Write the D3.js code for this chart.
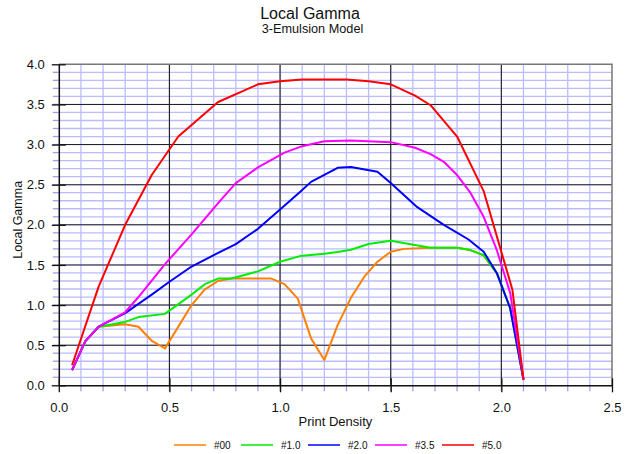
<!DOCTYPE html>
<html><head><meta charset="utf-8">
<script src="https://cdn.jsdelivr.net/npm/d3@7/dist/d3.min.js"></script>
<style>body{margin:0;background:#fff}svg{display:block;font-family:"Liberation Sans",Arial,sans-serif}</style>
</head><body><svg id="c" width="627" height="454"></svg>
<script>
// ---- data ----
const seriesNames = ["#00", "#1.0", "#2.0", "#3.5", "#5.0"];

const density00 = [0.06,0.12,0.18,0.30,0.36,0.42,0.48,0.60,0.66,0.72,0.78,0.91,0.96,1.02,1.08,1.14,1.20,1.26,1.32,1.38,1.44,1.50,1.56,1.68,1.80,1.86,1.92,1.98,2.04,2.10];
const gamma00   = [0.19,0.55,0.73,0.76,0.73,0.555,0.46,1.00,1.195,1.30,1.33,1.33,1.33,1.26,1.08,0.585,0.315,0.75,1.09,1.35,1.54,1.664,1.70,1.714,1.714,1.685,1.62,1.395,0.96,0.07];

const density10 = [0.06,0.12,0.18,0.30,0.36,0.48,0.60,0.66,0.72,0.78,0.90,1.00,1.09,1.20,1.26,1.32,1.40,1.50,1.68,1.80,1.86,1.92,1.98,2.04,2.10];
const gamma10   = [0.19,0.55,0.73,0.79,0.85,0.89,1.13,1.26,1.33,1.33,1.42,1.54,1.61,1.64,1.66,1.69,1.76,1.80,1.714,1.714,1.685,1.62,1.395,0.96,0.07];

const density20 = [0.06,0.12,0.18,0.30,0.42,0.50,0.60,0.72,0.80,0.90,1.00,1.09,1.14,1.26,1.32,1.44,1.50,1.62,1.74,1.85,1.92,1.98,2.04,2.10];
const gamma20   = [0.19,0.55,0.73,0.90,1.13,1.29,1.48,1.65,1.76,1.95,2.19,2.41,2.535,2.71,2.72,2.66,2.52,2.22,2.00,1.82,1.665,1.395,0.96,0.07];

const density35 = [0.06,0.12,0.18,0.30,0.36,0.48,0.60,0.72,0.80,0.90,1.02,1.10,1.20,1.32,1.50,1.61,1.68,1.74,1.80,1.86,1.92,1.98,2.04,2.10];
const gamma35   = [0.19,0.55,0.73,0.91,1.10,1.51,1.88,2.27,2.52,2.715,2.90,2.98,3.04,3.05,3.03,2.96,2.88,2.785,2.62,2.40,2.10,1.68,1.15,0.07];

const density50 = [0.06,0.18,0.30,0.42,0.54,0.72,0.90,1.00,1.10,1.20,1.30,1.40,1.50,1.61,1.68,1.80,1.92,2.05,2.10];
const gamma50   = [0.25,1.23,2.00,2.62,3.10,3.53,3.75,3.79,3.81,3.81,3.81,3.79,3.75,3.61,3.49,3.10,2.42,1.19,0.07];

const xTickValues = [0, 0.5, 1.0, 1.5, 2.0, 2.5];
const xTickLabels = ["0.0","0.5","1.0","1.5","2.0","2.5"];
const yTickValues = [0, 0.5, 1.0, 1.5, 2.0, 2.5, 3.0, 3.5, 4.0];
const yTickLabels = ["0.0","0.5","1.0","1.5","2.0","2.5","3.0","3.5","4.0"];

const titleText = "Local Gamma";
const subtitleText = "3-Emulsion Model";
const xTitle = "Print Density";
const yTitle = "Local Gamma";

// ---- drawing ----
const svg = d3.select("#c");
const L = 58.8, R = 612, T = 64.3, B = 385.3;
const x = d3.scaleLinear().domain([0, 2.5]).range([L, R]);
const y = d3.scaleLinear().domain([0, 4]).range([B, T]);

const gridColor = "#bbbbff";
const minorX = d3.range(1, 25).map(i => i / 10);
const minorY = d3.range(1, 40).map(i => i / 10);

const g = svg.append("g");
// minor grid
g.selectAll(".mx").data(minorX).join("line")
  .attr("x1", d => x(d)).attr("x2", d => x(d)).attr("y1", T).attr("y2", B)
  .attr("stroke", gridColor).attr("stroke-width", 1.3);
g.selectAll(".my").data(minorY).join("line")
  .attr("x1", L).attr("x2", R).attr("y1", d => y(d)).attr("y2", d => y(d))
  .attr("stroke", gridColor).attr("stroke-width", 1.3);
// minor ticks outside
g.selectAll(".mtx").data(minorX).join("line")
  .attr("x1", d => x(d)).attr("x2", d => x(d)).attr("y1", B).attr("y2", B + 6)
  .attr("stroke", "#a0a0e8").attr("stroke-width", 1.3);
g.selectAll(".mty").data(minorY).join("line")
  .attr("x1", L - 6).attr("x2", L).attr("y1", d => y(d)).attr("y2", d => y(d))
  .attr("stroke", "#a0a0e8").attr("stroke-width", 1.3);
// major grid
g.selectAll(".Mx").data(xTickValues.slice(1, -1)).join("line")
  .attr("x1", d => x(d)).attr("x2", d => x(d)).attr("y1", T).attr("y2", B)
  .attr("stroke", "#222").attr("stroke-width", 1.1);
g.selectAll(".My").data(yTickValues.slice(1, -1)).join("line")
  .attr("x1", L).attr("x2", R).attr("y1", d => y(d)).attr("y2", d => y(d))
  .attr("stroke", "#222").attr("stroke-width", 1.1);
// frame top/right
g.append("path").attr("d", `M${L},${T}H${R}V${B}`).attr("fill", "none")
  .attr("stroke", "#777").attr("stroke-width", 1.5);

// axes
const xAxis = d3.axisBottom(x).tickValues(xTickValues)
  .tickFormat((d, i) => xTickLabels[i]).tickSizeInner(7).tickSizeOuter(0).tickPadding(10);
const gx = svg.append("g").attr("transform", `translate(0,${B})`).call(xAxis);
gx.select(".domain").attr("stroke", "#111").attr("stroke-width", 1.5);
gx.selectAll(".tick line").attr("y1", -7).attr("y2", 7).attr("stroke", "#111").attr("stroke-width", 1.3);
gx.selectAll(".tick text").attr("font-size", 13).attr("fill", "#111").attr("font-family", "Liberation Sans, Arial, sans-serif");

const yAxis = d3.axisLeft(y).tickValues(yTickValues)
  .tickFormat((d, i) => yTickLabels[i]).tickSizeInner(7).tickSizeOuter(0).tickPadding(7);
const gy = svg.append("g").attr("transform", `translate(${L},0)`).call(yAxis);
gy.select(".domain").attr("stroke", "#111").attr("stroke-width", 1.5);
gy.selectAll(".tick line").attr("x1", -7).attr("x2", 7).attr("stroke", "#111").attr("stroke-width", 1.3);
gy.selectAll(".tick text").attr("font-size", 13).attr("fill", "#111").attr("font-family", "Liberation Sans, Arial, sans-serif");

// series
const colors = ["#ff8000", "#00ee00", "#0000ff", "#ff00ff", "#ff0000"];
const seriesX = [density00, density10, density20, density35, density50];
const seriesY = [gamma00, gamma10, gamma20, gamma35, gamma50];
const line = d3.line().x(d => x(d[0])).y(d => y(d[1]));
seriesNames.forEach((name, s) => {
  const pts = seriesX[s].map((d, i) => [d, seriesY[s][i]]);
  svg.append("path").datum(pts).attr("d", line)
    .attr("fill", "none").attr("stroke", colors[s]).attr("stroke-width", 2)
    .attr("stroke-linejoin", "round");
});

// titles
svg.append("text").attr("x", 310).attr("y", 18.5).attr("text-anchor", "middle")
  .attr("font-size", 16).attr("fill", "#111").text(titleText);
svg.append("text").attr("x", 312.5).attr("y", 32.5).attr("text-anchor", "middle")
  .attr("font-size", 12.7).attr("fill", "#111").text(subtitleText);
svg.append("text").attr("x", (L + R) / 2).attr("y", 426).attr("text-anchor", "middle")
  .attr("font-size", 13).attr("fill", "#111").text(xTitle);
svg.append("text").attr("transform", `translate(22,${(T + B) / 2 - 5}) rotate(-90)`)
  .attr("text-anchor", "middle").attr("font-size", 12.5).attr("fill", "#111").text(yTitle);

// legend
const lg = svg.append("g");
seriesNames.forEach((name, s) => {
  const lx = 174 + s * 67;
  lg.append("line").attr("x1", lx).attr("x2", lx + 32).attr("y1", 445).attr("y2", 445)
    .attr("stroke", colors[s]).attr("stroke-width", 1.5);
  lg.append("text").attr("x", lx + 40).attr("y", 448.5).attr("font-size", 10)
    .attr("fill", "#111").text(name);
});
</script></body></html>
